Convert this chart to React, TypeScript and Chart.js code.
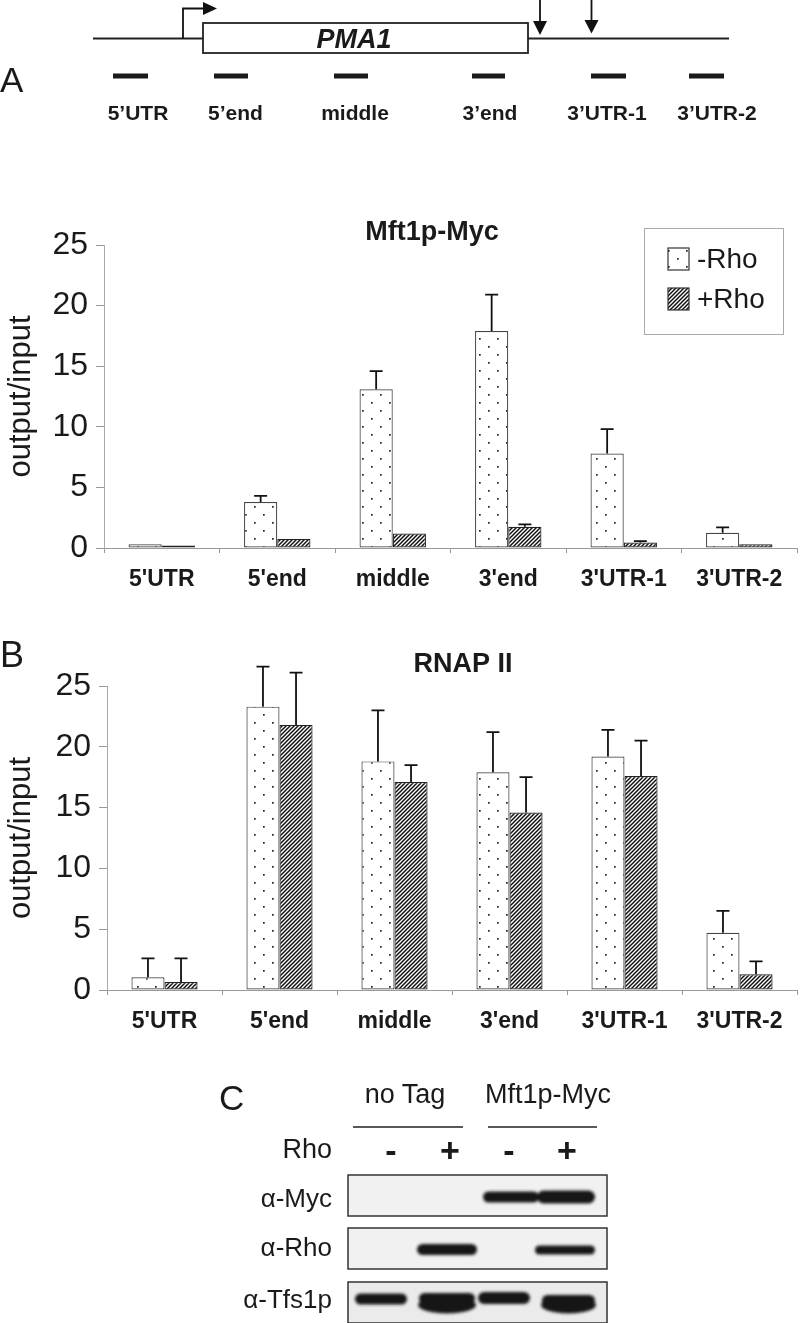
import React, { useEffect, useRef } from 'react';
import { Chart, registerables } from 'chart.js';

Chart.register(...registerables);
Chart.defaults.font.family = "'Liberation Sans', Arial, Helvetica, sans-serif";

// ---------- data ----------
const categories = ["5'UTR", "5'end", 'middle', "3'end", "3'UTR-1", "3'UTR-2"];
const seriesLabels = ['-Rho', '+Rho'];
const yTicks = [0, 5, 10, 15, 20, 25];
const yAxisTitle = 'output/input';

const mftTitle = 'Mft1p-Myc';
const mftMinusRho = [0.3, 3.8, 13.1, 17.9, 7.8, 1.25];
const mftMinusRhoErr = [0, 0.5, 1.5, 3.0, 2.0, 0.45];
const mftPlusRho = [0.2, 0.75, 1.2, 1.75, 0.45, 0.3];
const mftPlusRhoErr = [0, 0, 0, 0.2, 0.12, 0];

const rnapTitle = 'RNAP II';
const rnapMinusRho = [1.05, 23.3, 18.8, 17.9, 19.2, 4.7];
const rnapMinusRhoErr = [1.55, 3.3, 4.2, 3.3, 2.2, 1.8];
const rnapPlusRho = [0.65, 21.8, 17.1, 14.6, 17.6, 1.3];
const rnapPlusRhoErr = [1.95, 4.3, 1.4, 2.9, 2.9, 1.05];

const geneName = 'PMA1';
const diagramProbes = ['5’UTR', '5’end', 'middle', '3’end', '3’UTR-1', '3’UTR-2'];
const blotGroups = ['no Tag', 'Mft1p-Myc'];
const blotRhoLabel = 'Rho';
const blotRho = ['-', '+', '-', '+'];
const blotRows = ['α-Myc', 'α-Rho', 'α-Tfs1p'];

const FONT = "'Liberation Sans', Arial, Helvetica, sans-serif";

// ---------- patterns ----------
function dotPattern(): CanvasPattern {
  const c = document.createElement('canvas');
  c.width = 18;
  c.height = 16;
  const g = c.getContext('2d')!;
  g.fillStyle = '#ffffff';
  g.fillRect(0, 0, 18, 16);
  g.fillStyle = '#222222';
  g.fillRect(2, 2, 1.7, 1.7);
  g.fillRect(11, 10, 1.7, 1.7);
  return g.createPattern(c, 'repeat')!;
}

function hatchPattern(): CanvasPattern {
  const s = 4;
  const c = document.createElement('canvas');
  c.width = s;
  c.height = s;
  const g = c.getContext('2d')!;
  g.fillStyle = '#ffffff';
  g.fillRect(0, 0, s, s);
  g.strokeStyle = '#111111';
  g.lineWidth = 1.5;
  g.beginPath();
  g.moveTo(-1, s + 1);
  g.lineTo(s + 1, -1);
  g.moveTo(-1, 1);
  g.lineTo(1, -1);
  g.moveTo(s - 1, s + 1);
  g.lineTo(s + 1, s - 1);
  g.stroke();
  return g.createPattern(c, 'repeat')!;
}

// ---------- plugins ----------
const errorBarPlugin = {
  id: 'errorBars',
  afterDatasetsDraw(chart: any) {
    const ctx = chart.ctx;
    const y = chart.scales.y;
    chart.data.datasets.forEach((ds: any, di: number) => {
      const errs: number[] = ds.errors;
      if (!errs) return;
      const meta = chart.getDatasetMeta(di);
      meta.data.forEach((bar: any, i: number) => {
        const e = errs[i];
        if (!e) return;
        const yTop = y.getPixelForValue(ds.data[i] + e);
        ctx.save();
        ctx.strokeStyle = '#111';
        ctx.lineWidth = 1.8;
        ctx.beginPath();
        ctx.moveTo(bar.x, bar.y);
        ctx.lineTo(bar.x, yTop);
        ctx.moveTo(bar.x - 6.5, yTop);
        ctx.lineTo(bar.x + 6.5, yTop);
        ctx.stroke();
        ctx.restore();
      });
    });
  },
};

const panelTitlePlugin = {
  id: 'panelTitle',
  afterDraw(chart: any, _args: any, opts: any) {
    if (!opts || !opts.text) return;
    const ctx = chart.ctx;
    ctx.save();
    ctx.font = `bold ${opts.size}px ${FONT}`;
    ctx.fillStyle = '#1a1a1a';
    ctx.textAlign = 'center';
    ctx.textBaseline = 'middle';
    ctx.fillText(opts.text, opts.x, opts.y);
    ctx.restore();
  },
};

const patternLegendPlugin = {
  id: 'patternLegend',
  afterDraw(chart: any, _args: any, opts: any) {
    if (!opts || !opts.show) return;
    const ctx = chart.ctx;
    ctx.save();
    ctx.strokeStyle = '#aaa';
    ctx.lineWidth = 1;
    ctx.strokeRect(opts.x + 0.5, opts.y + 0.5, opts.w, opts.h);
    chart.data.datasets.forEach((ds: any, i: number) => {
      const sx = opts.x + 24;
      const sy = opts.y + 20 + i * 40;
      ctx.fillStyle = ds.backgroundColor;
      ctx.fillRect(sx, sy, 21, 22);
      ctx.strokeStyle = '#333';
      ctx.lineWidth = 1.2;
      ctx.strokeRect(sx, sy, 21, 22);
      ctx.fillStyle = '#1a1a1a';
      ctx.font = `28px ${FONT}`;
      ctx.textAlign = 'left';
      ctx.textBaseline = 'middle';
      ctx.fillText(ds.label, opts.x + 53, opts.y + 32 + i * 40);
    });
    ctx.restore();
  },
};

// ---------- chart panel ----------
type PanelProps = {
  top: number;
  height: number;
  padTop: number;
  yWidth: number;
  xHeight: number;
  title: string;
  titleX: number;
  titleY: number;
  minus: number[];
  minusErr: number[];
  plus: number[];
  plusErr: number[];
  legend: any;
};

function BarPanel(p: PanelProps) {
  const ref = useRef<HTMLCanvasElement>(null);
  useEffect(() => {
    const dots = dotPattern();
    const hatch = hatchPattern();
    const chart = new Chart(ref.current!, {
      type: 'bar',
      data: {
        labels: categories,
        datasets: [
          {
            label: seriesLabels[0],
            data: p.minus,
            errors: p.minusErr,
            backgroundColor: dots,
            borderColor: '#444',
            borderWidth: 1.2,
            borderSkipped: false,
            categoryPercentage: 0.575,
            barPercentage: 1,
          } as any,
          {
            label: seriesLabels[1],
            data: p.plus,
            errors: p.plusErr,
            backgroundColor: hatch,
            borderColor: '#222',
            borderWidth: 1.2,
            borderSkipped: false,
            categoryPercentage: 0.575,
            barPercentage: 1,
          } as any,
        ],
      },
      options: {
        animation: false,
        responsive: false,
        devicePixelRatio: 1,
        events: [],
        layout: { padding: { top: p.padTop, right: 3, left: 0, bottom: 0 } },
        plugins: {
          legend: { display: false },
          title: { display: false },
          tooltip: { enabled: false },
          panelTitle: { text: p.title, x: p.titleX, y: p.titleY, size: 27 },
          patternLegend: p.legend,
        } as any,
        scales: {
          x: {
            type: 'category',
            offset: true,
            grid: {
              offset: true,
              drawOnChartArea: false,
              drawTicks: true,
              tickLength: 5,
              color: '#999',
              lineWidth: 1,
            },
            border: { display: true, color: '#999', width: 1 },
            ticks: {
              font: { size: 23, weight: 'bold' },
              color: '#1a1a1a',
              padding: 13,
              maxRotation: 0,
              autoSkip: false,
            },
            afterFit: (s: any) => {
              s.height = p.xHeight;
              s.paddingLeft = 0;
              s.paddingRight = 0;
            },
          },
          y: {
            min: 0,
            max: 25,
            afterBuildTicks: (s: any) => {
              s.ticks = yTicks.map((v) => ({ value: v }));
            },
            ticks: { font: { size: 32 }, color: '#1a1a1a', padding: 8 },
            grid: { drawOnChartArea: false, drawTicks: true, tickLength: 8, color: '#999' },
            border: { display: true, color: '#aaa', width: 1 },
            title: {
              display: true,
              text: yAxisTitle,
              font: { size: 31 },
              color: '#1a1a1a',
              padding: { top: 2.4, bottom: 0 },
            },
            afterFit: (s: any) => {
              s.width = p.yWidth;
              s.paddingTop = 0;
              s.paddingBottom = 0;
            },
          },
        },
      } as any,
      plugins: [errorBarPlugin, panelTitlePlugin, patternLegendPlugin],
    });
    return () => chart.destroy();
  }, []);
  return (
    <canvas
      ref={ref}
      width={800}
      height={p.height}
      style={{ position: 'absolute', left: 0, top: p.top, width: 800, height: p.height }}
    />
  );
}

// ---------- diagram + blot overlay ----------
function Overlay() {
  const dashes = [
    [113, 148],
    [214, 248],
    [334, 368],
    [472, 505],
    [591, 626],
    [689, 724],
  ];
  const probeX = [138, 235.5, 355, 490, 607, 717];
  const signX = [391, 450, 509, 567];
  const rowBaseline = [1207, 1256, 1308];
  const boxes = [1175, 1228, 1282];
  const ink = '#1a1a1a';
  return (
    <svg
      width={800}
      height={1323}
      style={{ position: 'absolute', left: 0, top: 0, pointerEvents: 'none' }}
      fontFamily={FONT}
    >
      <defs>
        <filter id="bandBlur" x="-20%" y="-80%" width="140%" height="260%">
          <feGaussianBlur stdDeviation="1.6" />
        </filter>
      </defs>
      {/* panel letters */}
      <text x={0} y={92} fontSize={35} fill={ink}>A</text>
      <text x={0} y={667} fontSize={36} fill={ink}>B</text>
      <text x={219} y={1110} fontSize={35} fill={ink}>C</text>

      {/* gene diagram */}
      <line x1={93} y1={38.5} x2={203} y2={38.5} stroke="#222" strokeWidth={1.8} />
      <line x1={528} y1={38.5} x2={729} y2={38.5} stroke="#222" strokeWidth={1.8} />
      <polyline points="183,38.5 183,8.5 205,8.5" fill="none" stroke="#111" strokeWidth={1.8} />
      <polygon points="203,2 217,8.5 203,15" fill="#111" />
      <rect x={203} y={23} width={325} height={30} fill="#fff" stroke="#222" strokeWidth={1.8} />
      <text x={354} y={48} fontSize={27} fontWeight="bold" fontStyle="italic" textAnchor="middle" fill={ink}>
        {geneName}
      </text>
      <line x1={540} y1={0} x2={540} y2={24} stroke="#111" strokeWidth={1.8} />
      <polygon points="533,21 547,21 540,35" fill="#111" />
      <line x1={591.5} y1={0} x2={591.5} y2={22} stroke="#111" strokeWidth={1.8} />
      <polygon points="584.5,20 598.5,20 591.5,33.5" fill="#111" />
      {dashes.map(([a, b], i) => (
        <rect key={'d' + i} x={a} y={73.5} width={b - a} height={5} fill="#1a1a1a" />
      ))}
      {diagramProbes.map((t, i) => (
        <text key={'p' + i} x={probeX[i]} y={120} fontSize={21} fontWeight="bold" textAnchor="middle" fill={ink}>
          {t}
        </text>
      ))}

      {/* western blot */}
      <text x={405} y={1103} fontSize={27} textAnchor="middle" fill={ink}>{blotGroups[0]}</text>
      <text x={548} y={1103} fontSize={27} textAnchor="middle" fill={ink}>{blotGroups[1]}</text>
      <line x1={353} y1={1127} x2={463} y2={1127} stroke="#222" strokeWidth={1.5} />
      <line x1={488} y1={1127} x2={597} y2={1127} stroke="#222" strokeWidth={1.5} />
      <text x={332} y={1158} fontSize={27} textAnchor="end" fill={ink}>{blotRhoLabel}</text>
      {blotRho.map((s, i) => (
        <text key={'s' + i} x={signX[i]} y={1162} fontSize={34} fontWeight="bold" textAnchor="middle" fill={ink}>
          {s}
        </text>
      ))}
      {blotRows.map((t, i) => (
        <text key={'r' + i} x={332} y={rowBaseline[i]} fontSize={26} textAnchor="end" fill={ink}>
          {t}
        </text>
      ))}
      {boxes.map((y, i) => (
        <rect key={'b' + i} x={348} y={y} width={259} height={41} fill={i === 2 ? '#ebebeb' : '#f1f1f1'} stroke="#333" strokeWidth={1.5} />
      ))}
      <g filter="url(#bandBlur)" fill="#141414">
        {/* alpha-Myc */}
        <rect x={483} y={1191.5} width={56} height={11} rx={5.5} />
        <rect x={537} y={1190.5} width={58} height={13} rx={6.5} />
        {/* alpha-Rho */}
        <rect x={417} y={1244} width={60} height={11} rx={5.5} />
        <rect x={535} y={1245.5} width={60} height={9} rx={4.5} />
        {/* alpha-Tfs1p */}
        <rect x={355} y={1293.5} width={52} height={11} rx={5.5} />
        <rect x={419} y={1293} width={56} height={11} rx={5.5} />
        <ellipse cx={447} cy={1305} rx={29} ry={8.5} />
        <rect x={478} y={1292} width={52} height={12} rx={6} />
        <rect x={542} y={1295} width={53} height={11} rx={5.5} />
        <ellipse cx={568.5} cy={1305} rx={27.5} ry={8.5} />
      </g>
    </svg>
  );
}

export default function App() {
  return (
    <div style={{ position: 'absolute', left: 0, top: 0, width: 800, height: 1323, background: '#fff', overflow: 'hidden' }}>
      <BarPanel
        top={200}
        height={400}
        padTop={45}
        yWidth={104}
        xHeight={52}
        title={mftTitle}
        titleX={432}
        titleY={33}
        minus={mftMinusRho}
        minusErr={mftMinusRhoErr}
        plus={mftPlusRho}
        plusErr={mftPlusRhoErr}
        legend={{ show: true, x: 644, y: 28, w: 139, h: 106 }}
      />
      <BarPanel
        top={640}
        height={420}
        padTop={46}
        yWidth={107}
        xHeight={70}
        title={rnapTitle}
        titleX={463}
        titleY={25}
        minus={rnapMinusRho}
        minusErr={rnapMinusRhoErr}
        plus={rnapPlusRho}
        plusErr={rnapPlusRhoErr}
        legend={{ show: false }}
      />
      <Overlay />
    </div>
  );
}
